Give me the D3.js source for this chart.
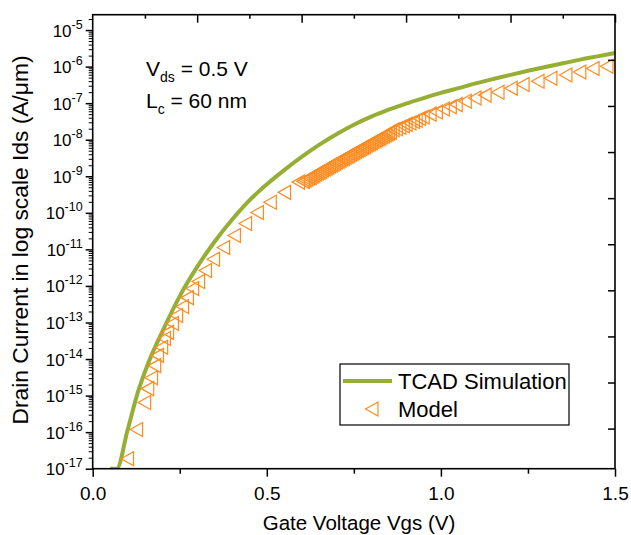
<!DOCTYPE html>
<html>
<meta charset="utf-8">
<script src="https://d3js.org/d3.v7.js"></script>
<style>
  body { margin: 0; background: #fff; }
  text { font-family: "Liberation Sans", Arial, sans-serif; }
</style>
<body>
<div id="my_dataviz"></div>
</body>
<script type="text/javascript">
  // TCAD simulation curve (Vgs in V, log10 of Ids in A/um)
  var tcadVgs = [0.05, 0.069, 0.10, 0.13, 0.16, 0.20, 0.25, 0.30, 0.35, 0.40, 0.45, 0.50, 0.55, 0.60,
                 0.65, 0.70, 0.75, 0.80, 0.85, 0.90, 0.95, 1.00, 1.05, 1.10, 1.15, 1.20, 1.25, 1.30,
                 1.35, 1.40, 1.45, 1.50];
  var tcadLogIds = [-17, -17, -15.95, -14.9, -14.1, -13.25, -12.28, -11.48, -10.79, -10.19, -9.66, -9.22, -8.83, -8.47,
                    -8.14, -7.85, -7.59, -7.37, -7.18, -7.01, -6.86, -6.72, -6.59, -6.46, -6.34, -6.225, -6.115, -6.01,
                    -5.91, -5.81, -5.72, -5.625];

  // Model points (dense band between 0.6 and 0.86 V)
  var modelVgs = [0.100, 0.126, 0.149, 0.158, 0.169, 0.178, 0.186, 0.198, 0.206, 0.215, 0.229, 0.241, 0.258, 0.272,
    0.287, 0.304, 0.324, 0.347, 0.376, 0.407, 0.439, 0.473, 0.510, 0.551, 0.591,
    0.605, 0.610, 0.615, 0.620, 0.625, 0.630, 0.635, 0.640, 0.645, 0.650, 0.655, 0.660, 0.665, 0.670, 0.675,
    0.680, 0.685, 0.690, 0.695, 0.700, 0.705, 0.710, 0.715, 0.720, 0.725, 0.730, 0.735, 0.740, 0.745, 0.750,
    0.755, 0.760, 0.765, 0.770, 0.775, 0.780, 0.785, 0.790, 0.795, 0.800, 0.805, 0.810, 0.815, 0.820, 0.825,
    0.830, 0.835, 0.840, 0.845, 0.850, 0.855,
    0.863, 0.872, 0.882, 0.892, 0.900, 0.911, 0.921, 0.929, 0.939, 0.949, 0.969, 0.987, 1.007, 1.027, 1.044,
    1.070, 1.098, 1.127, 1.164, 1.202, 1.236, 1.279, 1.316, 1.359, 1.399, 1.437, 1.477];
  var modelLogIds = [-16.73, -15.93, -15.19, -14.81, -14.51, -14.18, -13.90, -13.68, -13.44, -13.27, -13.03, -12.81, -12.56, -12.32,
    -12.07, -11.88, -11.58, -11.27, -10.95, -10.62, -10.29, -9.99, -9.71, -9.44, -9.16,
    -9.14, -9.11, -9.08, -9.05, -9.03, -9.00, -8.97, -8.94, -8.91, -8.89, -8.86, -8.83, -8.80, -8.78, -8.75,
    -8.72, -8.70, -8.67, -8.64, -8.61, -8.59, -8.56, -8.53, -8.51, -8.48, -8.45, -8.43, -8.40, -8.37, -8.35,
    -8.32, -8.29, -8.27, -8.24, -8.21, -8.19, -8.16, -8.13, -8.11, -8.08, -8.05, -8.03, -8.00, -7.97, -7.95,
    -7.92, -7.90, -7.87, -7.84, -7.82, -7.79,
    -7.73, -7.70, -7.66, -7.62, -7.58, -7.54, -7.50, -7.47, -7.42, -7.38, -7.30, -7.24, -7.16, -7.10, -7.04,
    -6.95, -6.86, -6.78, -6.70, -6.59, -6.49, -6.40, -6.32, -6.23, -6.15, -6.05, -5.99];

  // axis ticks
  var xTicks = [0.0, 0.5, 1.0, 1.5];
  var xMinorTicks = [0.25, 0.75, 1.25];
  var topTicks = [0.3, 0.6, 0.9, 1.2, 1.5];
  var topMinorTicks = [0.15, 0.45, 0.75, 1.05, 1.35];
  var yDecades = [-17, -16, -15, -14, -13, -12, -11, -10, -9, -8, -7, -6, -5];
  var rightTicks = [0, 1, 2, 3, 4, 5, 6, 7, 8];

  var green = "#96ae33", orange = "#ff8a1e";

  var margin = {top: 14.7, left: 92.7},
    width = 615 - margin.left,
    height = 468.7 - margin.top;

  var svg = d3.select("#my_dataviz")
    .append("svg")
      .attr("width", 631)
      .attr("height", 535)
    .append("g")
      .attr("transform", "translate(" + margin.left + "," + margin.top + ")");

  var x = d3.scaleLinear().domain([0, 1.5]).range([0, width]);
  var y = d3.scaleLog().domain([1e-17, Math.pow(10, -4.58)]).range([height, 0]);
  var yRight = d3.scaleLinear().domain([-0.87, 8.98]).range([height, 0]);

  svg.append("clipPath").attr("id", "clip")
    .append("rect").attr("width", width).attr("height", height);

  // TCAD line
  var tcad = tcadVgs.map(function(v, i) { return {v: v, i: Math.pow(10, tcadLogIds[i])}; });
  svg.append("path")
    .datum(tcad)
    .attr("clip-path", "url(#clip)")
    .attr("fill", "none")
    .attr("stroke", green)
    .attr("stroke-width", 4)
    .attr("d", d3.line()
      .x(function(d) { return x(d.v); })
      .y(function(d) { return y(d.i); })
      .curve(d3.curveMonotoneX));

  // Model markers
  var tri = "M-6.5,0L6,-7L6,7Z";
  var model = modelVgs.map(function(v, i) { return {v: v, i: Math.pow(10, modelLogIds[i])}; });
  svg.append("g").attr("clip-path", "url(#clip)")
    .selectAll("path")
    .data(model)
    .enter()
    .append("path")
      .attr("d", tri)
      .attr("transform", function(d) { return "translate(" + x(d.v) + "," + y(d.i) + ")"; })
      .attr("fill", "none")
      .attr("stroke", orange)
      .attr("stroke-width", 1.2);

  // axes
  function styleAxis(g) {
    g.select(".domain").remove();
    g.selectAll("line").attr("stroke", "#000").attr("stroke-width", 1.5);
  }

  svg.append("g")
    .attr("transform", "translate(0," + height + ")")
    .call(d3.axisBottom(x).tickValues(xTicks).tickSize(8).tickFormat(d3.format(".1f")))
    .call(styleAxis)
    .selectAll("text")
      .attr("font-size", 19)
      .attr("fill", "#000")
      .attr("dy", null)
      .attr("y", 31);
  svg.append("g")
    .attr("transform", "translate(0," + height + ")")
    .call(d3.axisBottom(x).tickValues(xMinorTicks).tickSize(5).tickFormat(""))
    .call(styleAxis);

  svg.append("g")
    .call(d3.axisTop(x).tickValues(topTicks).tickSize(-8).tickFormat(""))
    .call(styleAxis);
  svg.append("g")
    .call(d3.axisTop(x).tickValues(topMinorTicks).tickSize(-4).tickFormat(""))
    .call(styleAxis);

  var yMinor = [];
  yDecades.forEach(function(d) {
    for (var m = 2; m <= 9; m++) {
      var val = m * Math.pow(10, d);
      if (val < y.domain()[1]) yMinor.push(val);
    }
  });
  svg.append("g")
    .call(d3.axisLeft(y).tickValues(yDecades.map(function(d) { return Math.pow(10, d); })).tickSize(7).tickFormat(""))
    .call(styleAxis);
  svg.append("g")
    .call(d3.axisLeft(y).tickValues(yMinor).tickSize(4).tickFormat(""))
    .call(styleAxis)
    .selectAll("line").attr("stroke-width", 1);

  svg.append("g")
    .attr("transform", "translate(" + width + ",0)")
    .call(d3.axisRight(yRight).tickValues(rightTicks).tickSize(-7).tickFormat(""))
    .call(styleAxis);

  // y tick labels 10^n
  var ylab = svg.append("g").selectAll("text")
    .data(yDecades)
    .enter()
    .append("text")
      .attr("x", -10)
      .attr("y", function(d) { return y(Math.pow(10, d)) + 6.5; })
      .attr("text-anchor", "end")
      .attr("font-size", 17);
  ylab.append("tspan").text("10");
  ylab.append("tspan")
    .attr("font-size", 12.5)
    .attr("dy", -8)
    .text(function(d) { return "-" + Math.abs(d); });

  // frame
  svg.append("rect")
    .attr("width", width)
    .attr("height", height)
    .attr("fill", "none")
    .attr("stroke", "#000")
    .attr("stroke-width", 1.6);

  // axis titles
  svg.append("text")
    .attr("x", 359 - margin.left)
    .attr("y", 530 - margin.top)
    .attr("text-anchor", "middle")
    .attr("font-size", 20.5)
    .text("Gate Voltage Vgs (V)");
  svg.append("text")
    .attr("transform", "translate(" + (28 - margin.left) + "," + (240 - margin.top) + ") rotate(-90)")
    .attr("text-anchor", "middle")
    .attr("font-size", 22.8)
    .text("Drain Current in log scale Ids (A/\u03bcm)");

  // annotation
  var ann1 = svg.append("text")
    .attr("x", 146 - margin.left)
    .attr("y", 76 - margin.top)
    .attr("font-size", 21);
  ann1.append("tspan").text("V");
  ann1.append("tspan").attr("font-size", 14).attr("dy", 6).text("ds");
  ann1.append("tspan").attr("dy", -6).text(" = 0.5 V");
  var ann2 = svg.append("text")
    .attr("x", 146 - margin.left)
    .attr("y", 108 - margin.top)
    .attr("font-size", 21);
  ann2.append("tspan").text("L");
  ann2.append("tspan").attr("font-size", 14).attr("dy", 6).text("c");
  ann2.append("tspan").attr("dy", -6).text(" = 60 nm");

  // legend
  var lg = svg.append("g")
    .attr("transform", "translate(" + (340 - margin.left) + "," + (364 - margin.top) + ")");
  lg.append("rect")
    .attr("width", 229)
    .attr("height", 61)
    .attr("fill", "#fff")
    .attr("stroke", "#000")
    .attr("stroke-width", 1.2);
  lg.append("line")
    .attr("x1", 3).attr("x2", 52)
    .attr("y1", 17).attr("y2", 17)
    .attr("stroke", green)
    .attr("stroke-width", 4);
  lg.append("text")
    .attr("x", 58).attr("y", 25)
    .attr("font-size", 22)
    .text("TCAD Simulation");
  lg.append("path")
    .attr("d", tri)
    .attr("transform", "translate(32,45)")
    .attr("fill", "none")
    .attr("stroke", orange)
    .attr("stroke-width", 1.2);
  lg.append("text")
    .attr("x", 58).attr("y", 53)
    .attr("font-size", 22)
    .text("Model");
</script>
</html>
